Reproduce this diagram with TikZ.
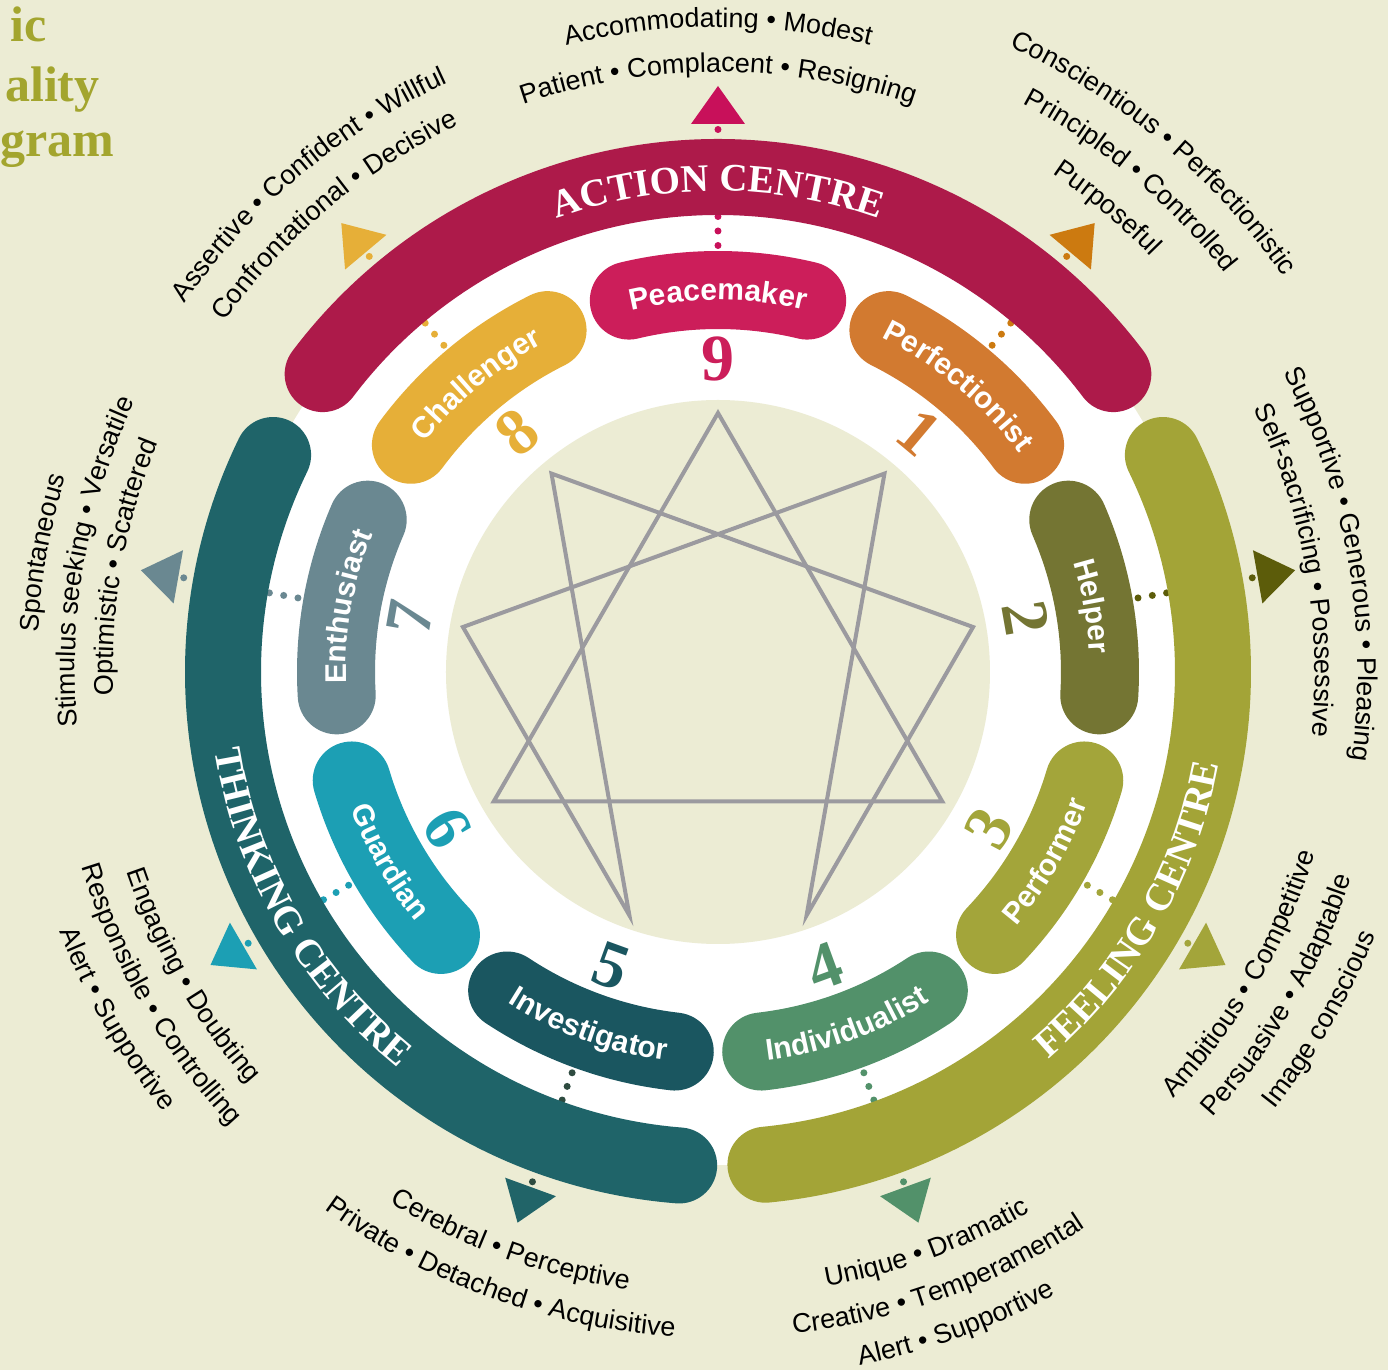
\documentclass[tikz,border=0pt]{standalone}
\usepackage{fontspec}
\setsansfont{Liberation Sans}
\newfontfamily\slab{Liberation Serif}
\usetikzlibrary{decorations.text}

\definecolor{paper}{HTML}{ECECD4}
\definecolor{actionc}{HTML}{AD1A4A}
\definecolor{feelingc}{HTML}{A3A437}
\definecolor{thinkingc}{HTML}{1F6469}
\definecolor{linegrey}{HTML}{9B9A9F}
\definecolor{titlec}{HTML}{A3A52E}
\definecolor{c9}{HTML}{CC1E5A}\definecolor{m9}{HTML}{C8105A}
\definecolor{c1}{HTML}{D27A30}\definecolor{m1}{HTML}{CC7A10}
\definecolor{c2}{HTML}{747533}\definecolor{m2}{HTML}{5C5C0A}
\definecolor{c3}{HTML}{A3A53A}\definecolor{m3}{HTML}{A3A53A}
\definecolor{c4}{HTML}{52916A}\definecolor{m4}{HTML}{52916A}
\definecolor{c5}{HTML}{1A5660}\definecolor{m5}{HTML}{216468}\definecolor{d5}{HTML}{2E4B40}
\definecolor{c6}{HTML}{1C9FB4}\definecolor{m6}{HTML}{1C9FB4}
\definecolor{c7}{HTML}{6A8891}\definecolor{m7}{HTML}{6A8891}
\definecolor{c8}{HTML}{E6AF38}\definecolor{m8}{HTML}{E6AF38}

\newcommand{\outfont}{\sffamily\fontsize{13.5}{14}\selectfont}
\newcommand{\pillfont}{\sffamily\bfseries\fontsize{15}{15}\selectfont\color{white}}
\newcommand{\bandfont}{\slab\bfseries\fontsize{19.5}{20}\selectfont\color{white}}

% text centred on an arc: start angle, end angle, radius, font, text
\newcommand{\arctext}[5]{%
  \edef\arcstr{#5}%
  \path[decorate,decoration={text along path,text align=center,
      text/.expanded={|\noexpand#4|\arcstr}}]
    (#1:#3) arc[start angle=#1,end angle=#2,radius=#3];}

\begin{document}
\begin{tikzpicture}[x=0.5pt,y=0.5pt,
  band/.style={line width=38pt,line cap=round},
  pill/.style={line width=39pt,line cap=round},
  dotline/.style={line width=3.5pt,line cap=round,dash pattern=on 0pt off 7.25pt},
  num/.style={font=\slab\bfseries\fontsize{33}{33}\selectfont,inner sep=0pt},
  title/.style={font=\slab\bfseries\fontsize{25}{25}\selectfont,text=titlec,inner sep=0pt},
  starline/.style={line width=2pt,draw=linegrey}]
\fill[paper] (-718,-698) rectangle (670,672);
\useasboundingbox (-718,-698) rectangle (670,672);

% heading, cut by the page edge
\node[title,anchor=base east] (head1) at (-671,630) {ic};
\node[title,anchor=base east] (head2) at (-618,570) {ality};
\node[title,anchor=base east] (head3) at (-603,515) {gram};

\fill[white] (0,0) circle[radius=493];

% dotted leaders and outward markers
\foreach \a/\n/\mk/\dc in {90/9/m9/m9,50/1/m1/m1,10/2/m2/m2,-30/3/m3/m3,-70/4/m4/m4,
    -110/5/m5/d5,-150/6/m6/m6,170/7/m7/m7,130/8/m8/m8}{
  \coordinate (pill\n) at (\a:412);
  \coordinate (tip\n) at (\a:548);
  \draw[dotline,color=\dc] (pill\n) -- (tip\n);
  \fill[fill=\mk,rotate=\a] (548,-27) -- (548,27) -- (586,0) -- cycle;
}

% the three centres
\draw[band,actionc] (143:495) arc[start angle=143,end angle=37,radius=495];
\draw[band,feelingc] (26:495) arc[start angle=26,end angle=-84.5,radius=495];
\draw[band,thinkingc] (154:495) arc[start angle=154,end angle=265.5,radius=495];
\arctext{140}{40}{481}{\bandfont}{ACTION CENTRE}
\arctext{-80}{20}{509}{\bandfont}{FEELING CENTRE}
\arctext{160}{260}{509}{\bandfont}{THINKING CENTRE}

% types
\foreach \a/\s/\col/\name/\n in {90/1/c9/Peacemaker/9,50/1/c1/Perfectionist/1,
    10/1/c2/Helper/2,-30/-1/c3/Performer/3,-70/-1/c4/Individualist/4,
    -110/-1/c5/Investigator/5,-150/-1/c6/Guardian/6,170/1/c7/Enthusiast/7,
    130/1/c8/Challenger/8}{
  \pgfmathsetmacro\pa{\a+13.5}
  \pgfmathsetmacro\pb{\a-13.5}
  \draw[pill,color=\col] (\pa:382) arc[start angle=\pa,end angle=\pb,radius=382];
  \pgfmathsetmacro\ta{\a+(\s)*30}
  \pgfmathsetmacro\tb{\a-(\s)*30}
  \pgfmathsetmacro\tr{382-(\s)*10}
  \arctext{\ta}{\tb}{\tr}{\pillfont}{\name}
  \pgfmathsetmacro\rot{\a-(\s)*90}
  \node[num,text=\col,rotate=\rot] (num\n) at (\a:313) {\n};
}

% enneagram
\fill[paper] (0,0) circle[radius=272];
\foreach \n/\a in {9/90,1/50,2/10,3/-30,4/-70,5/-110,6/-150,7/170,8/130}
  \coordinate (v\n) at (\a:259);
\draw[starline] (v9) -- (v3) -- (v6) -- cycle;
\draw[starline] (v1) -- (v4) -- (v2) -- (v8) -- (v5) -- (v7) -- cycle;

% traits
\arctext{125}{55}{600}{\outfont}{Patient • Complacent • Resigning}
\arctext{125}{55}{645}{\outfont}{Accommodating • Modest}
\arctext{85}{15}{600}{\outfont}{Purposeful}
\arctext{85}{15}{645}{\outfont}{Principled • Controlled}
\arctext{85}{15}{690}{\outfont}{Conscientious • Perfectionistic}
\arctext{45}{-25}{597}{\outfont}{Self-sacrificing • Possessive}
\arctext{45}{-25}{640}{\outfont}{Supportive • Generous • Pleasing}
\arctext{-65}{5}{624}{\outfont}{Ambitious • Competitive}
\arctext{-65}{5}{666}{\outfont}{Persuasive • Adaptable}
\arctext{-65}{5}{708}{\outfont}{Image conscious}
\arctext{-105}{-35}{624}{\outfont}{Unique • Dramatic}
\arctext{-105}{-35}{666}{\outfont}{Creative • Temperamental}
\arctext{-105}{-35}{708}{\outfont}{Alert • Supportive}
\arctext{-145}{-75}{624}{\outfont}{Cerebral • Perceptive}
\arctext{-145}{-75}{666}{\outfont}{Private • Detached • Acquisitive}
\arctext{-185}{-115}{624}{\outfont}{Engaging • Doubting}
\arctext{-185}{-115}{666}{\outfont}{Responsible • Controlling}
\arctext{-185}{-115}{708}{\outfont}{Alert • Supportive}
\arctext{205}{135}{605}{\outfont}{Optimistic • Scattered}
\arctext{205}{135}{643}{\outfont}{Stimulus seeking • Versatile}
\arctext{205}{135}{681}{\outfont}{Spontaneous}
\arctext{165}{95}{605}{\outfont}{Confrontational • Decisive}
\arctext{165}{95}{648}{\outfont}{Assertive • Confident • Willful}
\end{tikzpicture}
\end{document}
